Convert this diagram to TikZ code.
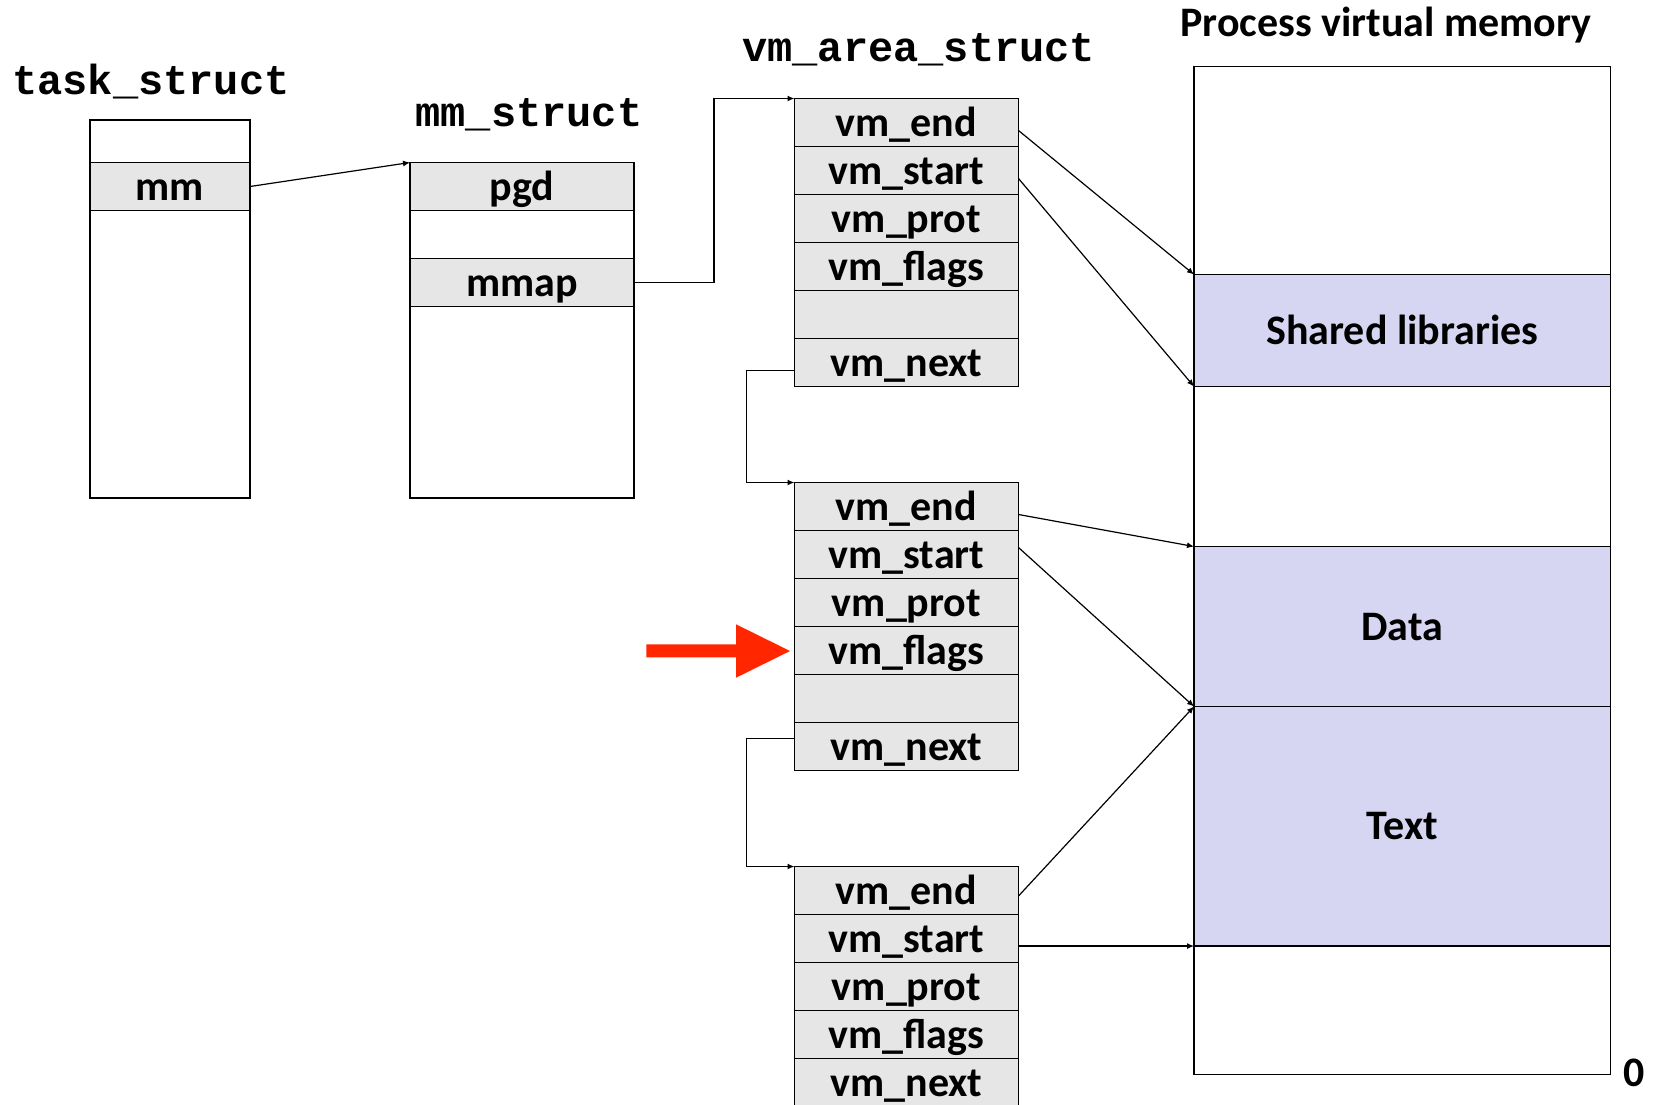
\documentclass[tikz,border=0pt]{standalone}
\usepackage{fontspec}
\setmainfont{Carlito}
\newfontfamily\codefont{Liberation Mono}
\usetikzlibrary{arrows.meta}
\definecolor{rowgray}{RGB}{230,230,230}
\definecolor{seglav}{RGB}{214,214,243}
\definecolor{hired}{RGB}{255,38,0}
\newcommand{\lblfont}{\fontsize{21}{25}\selectfont\bfseries}
\newcommand{\ttlfont}{\fontsize{21}{25}\selectfont\codefont\bfseries}
\begin{document}
\begin{tikzpicture}[x=0.5pt,y=-0.5pt,
  cell/.style={draw=black, line width=0.9pt, inner sep=0pt, outer sep=0pt,
    minimum width=112pt, minimum height=24pt, text height=13.5pt, text depth=0pt,
    font=\lblfont, fill=rowgray},
  blank/.style={cell, fill=white},
  seg/.style={cell, minimum width=208.25pt},
  title/.style={anchor=base, inner sep=0pt, font=\ttlfont},
  conn/.style={draw=black, line width=0.6pt, -{Latex[length=3.5pt,width=3pt]}}
]
\useasboundingbox (0,0) rectangle (1653,1104);
\clip (0,0) rectangle (1653,1104);

% titles
\node[title] (tt) at (151,94.3) {task\_struct};
\node[title] (mt) at (529,126) {mm\_struct};
\node[title] (vt) at (918.8,61.7) {vm\_area\_struct};
\node[anchor=base, inner sep=0pt, font=\lblfont] (pt) at (1386,36) {Process virtual memory};
\node[anchor=base, inner sep=0pt, font=\lblfont] (zero) at (1634,1086) {0};

% task_struct
\node[blank, minimum width=80pt, minimum height=21.25pt] (t0) at (170,141.25) {};
\node[cell, minimum width=80pt] (mm) at (170,186.5) {mm};
\node[blank, minimum width=80pt, minimum height=143.75pt] (t2) at (170,354.25) {};

% mm_struct
\node[cell] (pgd) at (522,186.5) {pgd};
\node[blank] (m1) at (522,234.5) {};
\node[cell] (mmap) at (522,282.5) {mmap};
\node[blank, minimum height=95.75pt] (m3) at (522,402.25) {};

% vm_area_struct A
\node[cell] (vmA1) at (906.5,122.5) {vm\_end};
\node[cell] (vmA2) at (906.5,170.5) {vm\_start};
\node[cell] (vmA3) at (906.5,218.5) {vm\_prot};
\node[cell] (vmA4) at (906.5,266.5) {vm\_flags};
\node[cell] (vmA5) at (906.5,314.5) {};
\node[cell] (vmA6) at (906.5,362.5) {vm\_next};
% B
\node[cell] (vmB1) at (906.5,506.5) {vm\_end};
\node[cell] (vmB2) at (906.5,554.5) {vm\_start};
\node[cell] (vmB3) at (906.5,602.5) {vm\_prot};
\node[cell] (vmB4) at (906.5,650.5) {vm\_flags};
\node[cell] (vmB5) at (906.5,698.5) {};
\node[cell] (vmB6) at (906.5,746.5) {vm\_next};
% C
\node[cell] (vmC1) at (906.5,890.5) {vm\_end};
\node[cell] (vmC2) at (906.5,938.5) {vm\_start};
\node[cell] (vmC3) at (906.5,986.5) {vm\_prot};
\node[cell] (vmC4) at (906.5,1034.5) {vm\_flags};
\node[cell] (vmC5) at (906.5,1082.5) {vm\_next};

% process virtual memory
\node[seg, fill=white, minimum height=104pt] (pv1) at (1402.25,170.5) {};
\node[seg, fill=seglav, minimum height=56pt] (shlib) at (1402.25,330.5) {Shared libraries};
\node[seg, fill=white, minimum height=80pt] (pv2) at (1402.25,466.5) {};
\node[seg, fill=seglav, minimum height=80pt] (data) at (1402.25,626.5) {Data};
\node[seg, fill=seglav, minimum height=119.75pt] (text) at (1402.25,826.25) {Text};
\node[seg, fill=white, minimum height=64.25pt] (pv3) at (1402.25,1010.25) {};

% connectors
\draw[conn] (mm.east) -- (pgd.north west);
\coordinate (j1) at (714,282.5);
\draw[conn] (mmap.east) -- (j1) |- (vmA1.north west);
\draw[conn] ([yshift=-4pt]vmA6.west) -- ++(-47.7,0) |- (vmB1.north west);
\draw[conn] ([yshift=4pt]vmB6.west) -- ++(-47.7,0) |- (vmC1.north west);

\draw[conn] ([yshift=-4pt]vmA1.east) -- (shlib.north west);
\draw[conn] ([yshift=-4pt]vmA2.east) -- (shlib.south west);
\draw[conn] ([yshift=-4pt]vmB1.east) -- (data.north west);
\draw[conn] ([yshift=3.5pt]vmB2.east) -- (data.south west);
\draw[conn] ([yshift=-2.75pt]vmC1.east) -- (text.north west);
\draw[conn] ([yshift=-3.75pt]vmC2.east) -- (text.south west);

% red pointer
\fill[hired] (646.4,644.3) -- (736,644.3) -- (736,624.3) -- (790,651)
  -- (736,677.7) -- (736,657.3) -- (646.4,657.3) -- cycle;
\end{tikzpicture}
\end{document}
